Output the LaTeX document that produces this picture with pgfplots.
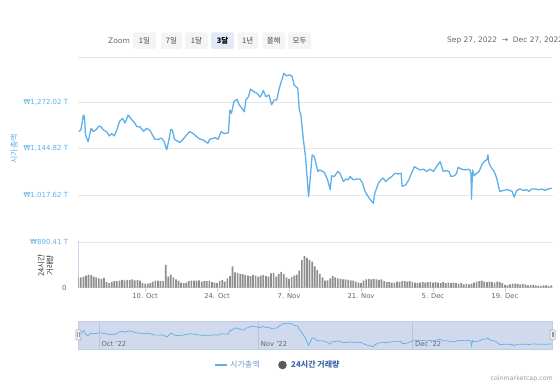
\documentclass[border=0pt]{standalone}
\usepackage{pgfplots}
\usepackage{pgfplotstable}
\pgfplotsset{compat=1.18}
\usepackage{fontspec}
\setmainfont{DejaVu Sans}
\newfontfamily\kr{Noto Sans CJK KR}
\definecolor{lineblue}{HTML}{5DB0EA}
\definecolor{labelblue}{HTML}{62B0E8}
\definecolor{gridgray}{HTML}{E6E6E6}
\definecolor{axisblue}{HTML}{CCD6EB}
\definecolor{tickgray}{HTML}{666666}
\definecolor{bargray}{HTML}{8E8E8E}
\definecolor{navfill}{HTML}{D1DAED}
\definecolor{navborder}{HTML}{C2CCE2}
\definecolor{navgrid}{HTML}{B9C4DC}
\definecolor{btnfill}{HTML}{F4F4F4}
\definecolor{btnsel}{HTML}{E3EAF6}
\definecolor{btntext}{HTML}{444444}
\definecolor{legblueA}{HTML}{6D95CC}
\definecolor{legblueB}{HTML}{3E68A8}
\definecolor{dotgray}{HTML}{5A5A5A}
\definecolor{darktext}{HTML}{333333}
\definecolor{cmcgray}{HTML}{999999}
\definecolor{handlegray}{HTML}{999999}
\definecolor{handlefill}{HTML}{F2F2F2}

\pgfplotstableread{
x y
0.1 1192
0.5 1196
1.0 1237
1.2 1233
1.4 1183
1.9 1164
2.5 1201
2.9 1192
3.4 1196
4.0 1207
4.4 1205
4.9 1196
5.5 1192
6.0 1180
6.5 1186
7.0 1180
7.5 1196
8.0 1219
8.6 1228
9.1 1215
9.7 1237
10.4 1224
11.0 1215
11.4 1205
12.0 1205
12.7 1192
13.3 1201
14.0 1194
14.4 1183
14.9 1171
15.6 1171
16.2 1174
16.7 1164
17.2 1142
17.7 1174
18.0 1198
18.3 1196
18.7 1171
19.1 1167
19.8 1162
20.4 1171
21.1 1183
21.7 1192
22.4 1186
23.0 1178
23.7 1171
24.3 1169
25.2 1160
25.6 1171
26.6 1175
27.2 1171
27.8 1192
28.4 1186
29.2 1189
29.5 1251
29.8 1242
30.3 1274
30.9 1280
31.3 1265
31.8 1256
32.3 1246
32.6 1278
33.1 1287
33.5 1308
34.1 1301
34.7 1297
35.4 1286
36.0 1304
36.5 1287
37.1 1292
37.6 1265
38.1 1278
38.6 1278
39.1 1310
39.6 1333
40.0 1351
40.5 1344
41.2 1347
41.6 1342
42.0 1319
42.7 1310
43.0 1251
43.3 1237
43.8 1169
44.2 1124
44.8 1014
45.1 1060
45.5 1128
45.9 1124
46.6 1083
47.0 1087
47.2 1085
47.9 1080
48.5 1060
49.0 1033
49.3 1071
49.8 1069
50.5 1083
50.9 1078
51.6 1055
52.0 1062
52.5 1060
52.9 1069
53.5 1060
54.2 1062
54.8 1062
55.3 1051
55.8 1028
56.4 1014
57.1 1001
57.4 996
57.7 1024
58.4 1051
58.9 1060
59.3 1065
59.8 1055
60.3 1062
61.0 1069
61.6 1078
62.3 1076
62.8 1078
63.0 1042
63.7 1046
64.3 1060
64.9 1080
65.4 1096
65.8 1092
66.5 1087
67.1 1089
67.8 1083
68.4 1089
69.1 1083
69.7 1096
70.4 1110
70.6 1101
71.0 1083
71.7 1085
72.1 1083
72.5 1069
73.2 1071
73.6 1078
73.9 1094
74.6 1089
75.2 1087
75.9 1089
76.2 1087
76.4 1074
76.5 1007
76.7 1087
77.0 1071
77.5 1078
78.0 1083
78.5 1101
79.0 1110
79.5 1115
79.7 1128
79.9 1106
80.4 1092
80.9 1083
81.4 1065
81.7 1046
82.0 1028
82.7 1031
83.4 1033
84.0 1031
84.4 1028
84.8 1013
85.3 1031
85.9 1035
86.6 1031
87.2 1033
87.7 1028
88.2 1035
88.9 1035
89.5 1033
90.2 1035
90.8 1031
91.4 1035
92.1 1037
}\price

\pgfplotstableread{
x y
0 22
0.5 22
1 24
1.5 26
2 28
2.5 27
3 24
3.5 22
4 20
4.5 19
5 21
5.5 12
6 10
6.5 12
7 14
7.5 14
8 15
8.5 17
9 16
9.5 17
10 17
10.5 18
11 16
11.5 17
12 15
12.5 10
13 9
13.5 9
14 10
14.5 13
15 15
15.5 15
16 14
16.5 14
17 49
17.5 24
18 28
18.5 22
19 18
19.5 15
20 11
20.5 10
21 11
21.5 14
22 15
22.5 15
23 15
23.5 16
24 13
24.5 14
25 14
25.5 15
26 12
26.5 11
27 10
27.5 14
28 17
28.5 13
29 20
29.5 25
30 46
30.5 33
31 32
31.5 30
32 29
32.5 27
33 26
33.5 25
34 27
34.5 26
35 24
35.5 26
36 27
36.5 25
37 24
37.5 31
38 32
38.5 24
39 30
39.5 34
40 29
40.5 22
41 19
41.5 23
42 26
42.5 28
43 37
43.5 60
44 68
44.5 64
45 60
45.5 56
46 46
46.5 38
47 30
47.5 22
48 15
48.5 16
49 20
49.5 25
50 22
50.5 20
51 19
51.5 18
52 18
52.5 17
53 16
53.5 15
54 13
54.5 11
55 10
55.5 15
56 18
56.5 19
57 18
57.5 19
58 18
58.5 17
59 18
59.5 14
60 12
60.5 12
61 11
61.5 11
62 13
62.5 12
63 14
63.5 14
64 13
64.5 14
65 12
65.5 11
66 10
66.5 11
67 12
67.5 11
68 12
68.5 12
69 11
69.5 12
70 11
70.5 10
71 12
71.5 10
72 11
72.5 10
73 11
73.5 10
74 9
74.5 10
75 7
75.5 8
76 7
76.5 9
77 11
77.5 13
78 14
78.5 15
79 13
79.5 12
80 13
80.5 12
81 11
81.5 13
82 12
82.5 10
83 6
83.5 5
84 7
84.5 9
85 9
85.5 8
86 7
86.5 8
87 7
87.5 5
88 6
88.5 6
89 5
89.5 4
90 4
90.5 5
91 5
91.5 4
92 5
}\volume

\begin{document}
\begin{tikzpicture}[x=1pt,y=1pt]
\path[use as bounding box] (0,0) rectangle (560,385);

% toolbar
\node[text=tickgray, font=\fontsize{7.5}{9}\selectfont] at (119,344.3) {Zoom};
\fill[btnfill, rounded corners=1.5pt] (133,336) rectangle (156,352.5);
\fill[btnfill, rounded corners=1.5pt] (161,336) rectangle (182,352.5);
\fill[btnfill, rounded corners=1.5pt] (185,336) rectangle (208,352.5);
\fill[btnsel, rounded corners=1.5pt] (211,336) rectangle (234,352.5);
\fill[btnfill, rounded corners=1.5pt] (237.5,336) rectangle (258,352.5);
\fill[btnfill, rounded corners=1.5pt] (262.5,336) rectangle (285,352.5);
\fill[btnfill, rounded corners=1.5pt] (288,336) rectangle (311,352.5);
\node[text=btntext, font=\kr\fontsize{7.5}{9}\selectfont] at (144.5,344.3) {1일};
\node[text=btntext, font=\kr\fontsize{7.5}{9}\selectfont] at (171.5,344.3) {7일};
\node[text=btntext, font=\kr\fontsize{7.5}{9}\selectfont] at (196.5,344.3) {1달};
\node[text=black, font=\kr\bfseries\fontsize{7.5}{9}\selectfont] at (222.5,344.3) {3달};
\node[text=btntext, font=\kr\fontsize{7.5}{9}\selectfont] at (247.7,344.3) {1년};
\node[text=btntext, font=\kr\fontsize{7.5}{9}\selectfont] at (273.7,344.3) {올해};
\node[text=btntext, font=\kr\fontsize{7.5}{9}\selectfont] at (299.5,344.3) {모두};
\node[anchor=west, text=tickgray, font=\fontsize{7.5}{9}\selectfont, inner sep=0pt] at (447,344.3) {Sep 27, 2022 \ → \ Dec 27, 2022};
\draw[gridgray, line width=0.6pt] (78,327.5) -- (552,327.5);

% main price axis
\begin{axis}[
  at={(78.3pt,143pt)}, anchor=south west, scale only axis,
  width=474.4pt, height=186.3pt,
  xmin=0, xmax=92.3, ymin=890, ymax=1399.22,
  axis line style={draw=none},
  xtick=\empty,
  ytick={890.41,1017.62,1144.82,1272.02},
  yticklabels={{₩890.41 T},{₩1,017.62 T},{₩1,144.82 T},{₩1,272.02 T}},
  ymajorgrids, grid style={gridgray, line width=0.6pt},
  major tick length=0pt,
  yticklabel style={font=\fontsize{7}{8}\selectfont, text=labelblue, anchor=east, inner sep=0pt, xshift=-10pt},
]
\addplot[lineblue, line width=1.3pt, line join=round] table {\price};
\end{axis}

% volume axis
\begin{axis}[
  at={(78.3pt,97.3pt)}, anchor=south west, scale only axis,
  width=474.4pt, height=46.4pt,
  xmin=0, xmax=92.3, ymin=0, ymax=100,
  axis x line*=bottom, axis y line*=left,
  axis line style={-, draw=axisblue, line width=0.6pt},
  xtick={13,27,41,55,69,83},
  xticklabels={10. Oct,24. Oct,7. Nov,21. Nov,5. Dec,19. Dec},
  ytick={0}, yticklabels={0},
  tick align=outside, major tick length=4.5pt,
  xtick style={draw=axisblue, line width=0.6pt},
  ytick style={draw=none},
  xticklabel style={font=\fontsize{6.8}{8}\selectfont, text=tickgray, inner sep=1pt},
  yticklabel style={font=\fontsize{7}{8}\selectfont, text=tickgray, anchor=east, inner sep=0pt, xshift=-7pt},
]
\addplot[ybar, bar width=1.7pt, fill=bargray, draw=none] table {\volume};
\end{axis}

% navigator
\begin{axis}[
  at={(78.3pt,35.7pt)}, anchor=south west, scale only axis,
  width=474.4pt, height=28.3pt,
  xmin=0, xmax=92.3, ymin=956, ymax=1386,
  axis background/.style={fill=navfill},
  axis line style={draw=navborder, line width=0.5pt},
  xtick={4,35,65}, xticklabels={Oct '22,Nov '22,Dec '22},
  ytick=\empty, major tick length=0pt,
  xmajorgrids, grid style={navgrid, line width=0.6pt},
  xticklabel style={font=\fontsize{6.8}{8}\selectfont, text=tickgray, anchor=south west, inner sep=0.5pt, xshift=2pt, yshift=2pt},
]
\addplot[lineblue, line width=0.7pt] table {\price};
\end{axis}

% navigator handles
\draw[draw=handlegray, fill=handlefill, line width=0.5pt, rounded corners=0.8pt] (75.8,45) rectangle (80.8,55);
\draw[handlegray, line width=0.4pt] (77.6,47.5) -- (77.6,52.5) (79,47.5) -- (79,52.5);
\draw[draw=handlegray, fill=handlefill, line width=0.5pt, rounded corners=0.8pt] (550.2,45) rectangle (555.2,55);
\draw[handlegray, line width=0.4pt] (552,47.5) -- (552,52.5) (553.4,47.5) -- (553.4,52.5);

% axis titles
\node[rotate=90, text=labelblue, font=\kr\fontsize{8}{9}\selectfont] at (14,236) {시가총액};
\node[rotate=90, text=darktext, align=center, font=\kr\fontsize{7.5}{9}\selectfont] at (45.5,119.5) {24시간\\거래량};

% legend
\draw[lineblue, line width=1.5pt] (215,20) -- (227,20);
\node[anchor=west, text=legblueA, inner sep=0pt, font=\kr\fontsize{8}{9}\selectfont] at (230,20) {시가총액};
\fill[dotgray] (282.5,20) circle (4.3);
\node[anchor=west, text=legblueB, inner sep=0pt, font=\kr\bfseries\fontsize{8}{9}\selectfont] at (291,20) {24시간 거래량};

\node[anchor=east, text=cmcgray, inner sep=0pt, font=\fontsize{6.3}{7}\selectfont] at (553,6) {coinmarketcap.com};
\end{tikzpicture}
\end{document}
